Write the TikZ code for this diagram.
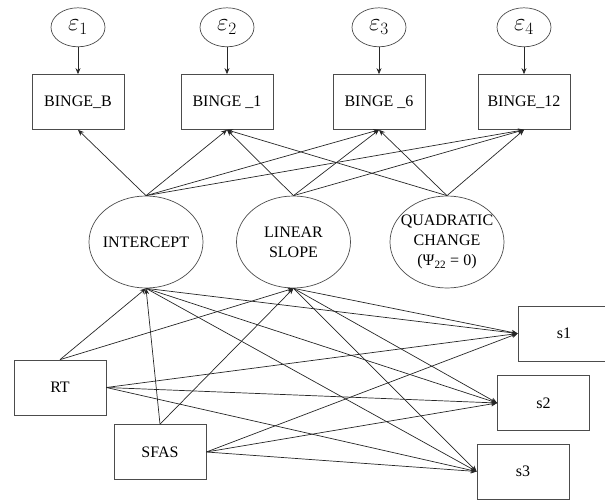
\documentclass[tikz,border=0pt]{standalone}
\usepackage{fontspec}
\setmainfont{Liberation Serif}
\usepackage{tikz}
\usetikzlibrary{
  arrows.meta,
  shapes.geometric,
  positioning
}

\begin{document}
\begin{tikzpicture}[
      x=1pt,y=-1pt,
      observed/.style={
         rectangle,
         minimum width=92pt,
         minimum height=55pt,
         line width=0.7pt,
         draw=black!70,
         font=\fontsize{16}{20}\selectfont
      },
      latent/.style={
         ellipse,
         minimum width=114pt,
         minimum height=92pt,
         inner sep=0pt,
         line width=0.7pt,
         draw=black!70
      },
      residual/.style={
         ellipse,
         minimum width=54pt,
         minimum height=39pt,
         inner sep=0pt,
         line width=0.7pt,
         draw=black!70,
         font=\fontsize{26}{26}\selectfont
      },
      inner text/.style={align=center,font=\fontsize{16}{20}\selectfont},
      >={Stealth[length=6pt,width=5pt]},line width=0.7pt,
      tip/.style={->,draw=black!85}
    ]
    \useasboundingbox (0,0) rectangle (605,500);

    % repeated measures
    \node (bingeB)  [observed] at (78,102)  {BINGE\_B};
    \node (binge1)  [observed] at (227,102) {BINGE \_1};
    \node (binge6)  [observed] at (379,102) {BINGE \_6};
    \node (binge12) [observed] at (524,102) {BINGE\_12};

    % residuals
    \node (eps1) [residual, above=27pt of bingeB]  {$\varepsilon_1$};
    \node (eps2) [residual, above=27pt of binge1]  {$\varepsilon_2$};
    \node (eps3) [residual, above=27pt of binge6]  {$\varepsilon_3$};
    \node (eps4) [residual, above=27pt of binge12] {$\varepsilon_4$};

    % growth factors
    \node (icept) [latent, label={[inner text]center:INTERCEPT}] at (146,242) {};
    \node (slope) [latent, label={[inner text]center:{LINEAR\\SLOPE}}] at (293.5,242) {};
    \node (quad)  [latent, label={[inner text]center:{QUADRATIC\\CHANGE\\(Ψ\textsubscript{22} = 0)}}] at (447,242) {};

    % covariates and outcomes
    \node (rt)   [observed] at (60,387.5) {RT};
    \node (sfas) [observed] at (160,452)  {SFAS};
    \node (s1)   [observed] at (564,333.5) {s1};
    \node (s2)   [observed] at (543.5,403) {s2};
    \node (s3)   [observed] at (523,471.5) {s3};

    \draw [tip] (eps1) -- (bingeB);
    \draw [tip] (eps2) -- (binge1);
    \draw [tip] (eps3) -- (binge6);
    \draw [tip] (eps4) -- (binge12);

    \draw [tip] (icept.north) -- (bingeB.south);
    \draw [tip] (icept.north) -- (binge1.south);
    \draw [tip] (icept.north) -- (binge6.south);
    \draw [tip] (icept.north) -- (binge12.south);
    \draw [tip] (slope.north) -- (binge1.south);
    \draw [tip] (slope.north) -- (binge6.south);
    \draw [tip] (slope.north) -- (binge12.south);
    \draw [tip] (quad.north) -- (binge1.south);
    \draw [tip] (quad.north) -- (binge6.south);
    \draw [tip] (quad.north) -- (binge12.south);

    \draw [tip] (rt.north) -- (icept.south);
    \draw [tip] (rt.north) -- (slope.south);
    \draw [tip] (sfas.north) -- (icept.south);
    \draw [tip] (sfas.north) -- (slope.south);

    \draw [tip] (icept.south) -- (s1.west);
    \draw [tip] (icept.south) -- (s2.west);
    \draw [tip] (icept.south) -- (s3.west);
    \draw [tip] (slope.south) -- (s1.west);
    \draw [tip] (slope.south) -- (s2.west);
    \draw [tip] (slope.south) -- (s3.west);
    \draw [tip] (rt.east) -- (s1.west);
    \draw [tip] (rt.east) -- (s2.west);
    \draw [tip] (rt.east) -- (s3.west);
    \draw [tip] (sfas.east) -- (s1.west);
    \draw [tip] (sfas.east) -- (s2.west);
    \draw [tip] (sfas.east) -- (s3.west);
\end{tikzpicture}
\end{document}
